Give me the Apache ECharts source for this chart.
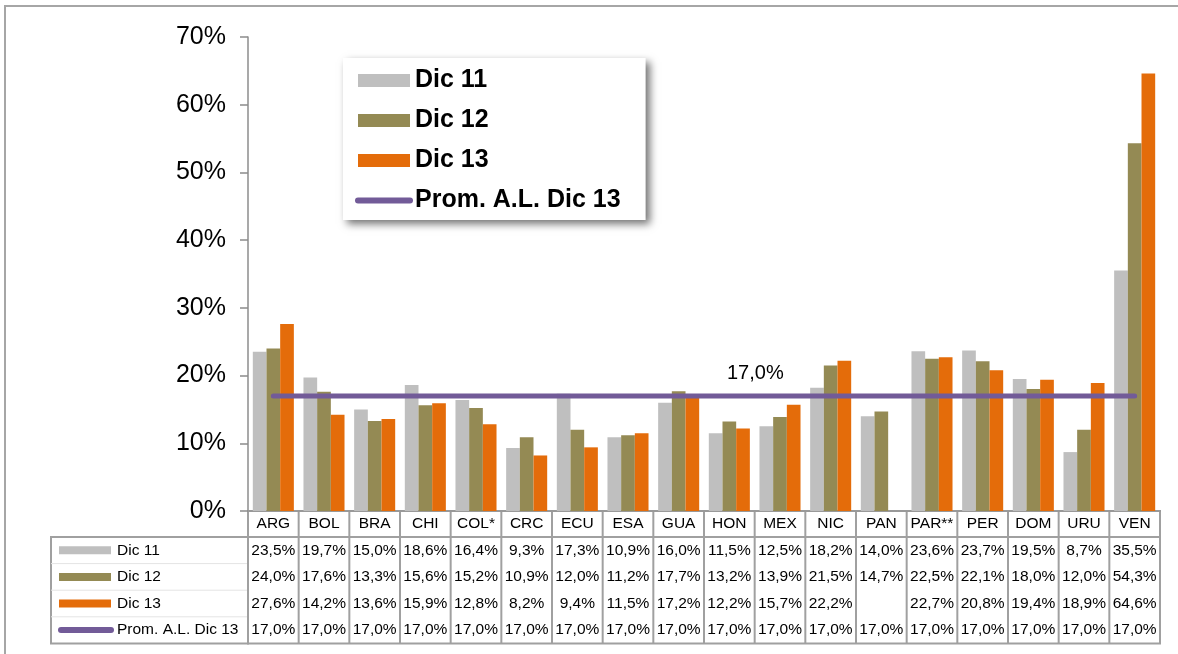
<!DOCTYPE html>
<html>
<head>
<meta charset="utf-8">
<script src="https://cdn.jsdelivr.net/npm/echarts@6/dist/echarts.min.js"></script>
<style>
  html, body { margin: 0; padding: 0; background: #fff; }
  #chart { width: 1178px; height: 654px; }
</style>
</head>
<body>
<div id="chart"></div>
<script>
// datos por país (% )
const countries = ['ARG', 'BOL', 'BRA', 'CHI', 'COL*', 'CRC', 'ECU', 'ESA', 'GUA', 'HON', 'MEX', 'NIC', 'PAN', 'PAR**', 'PER', 'DOM', 'URU', 'VEN'];
const dic11 = [23.5, 19.7, 15.0, 18.6, 16.4, 9.3, 17.3, 10.9, 16.0, 11.5, 12.5, 18.2, 14.0, 23.6, 23.7, 19.5, 8.7, 35.5];
const dic12 = [24.0, 17.6, 13.3, 15.6, 15.2, 10.9, 12.0, 11.2, 17.7, 13.2, 13.9, 21.5, 14.7, 22.5, 22.1, 18.0, 12.0, 54.3];
const dic13 = [27.6, 14.2, 13.6, 15.9, 12.8, 8.2, 9.4, 11.5, 17.2, 12.2, 15.7, 22.2, null, 22.7, 20.8, 19.4, 18.9, 64.6];
const promAL = [17.0, 17.0, 17.0, 17.0, 17.0, 17.0, 17.0, 17.0, 17.0, 17.0, 17.0, 17.0, 17.0, 17.0, 17.0, 17.0, 17.0, 17.0];
const seriesNames = ['Dic 11', 'Dic 12', 'Dic 13', 'Prom. A.L. Dic 13'];
const colors = ['#BFBFBF', '#948A54', '#E46C0A', '#725B98'];
const promLabelIndex = 9; // etiqueta "17,0%"

const FONT = 'Arial, "Liberation Sans", sans-serif';
const fmt = v => (v === null || v === undefined) ? '' : v.toFixed(1).replace('.', ',') + '%';

const chart = echarts.init(document.getElementById('chart'));

const option = {
  animation: false,
  color: colors,
  textStyle: { fontFamily: FONT },
  grid: { left: 248, right: 18, top: 37, bottom: 143 },
  legend: {
    orient: 'vertical',
    left: 343,
    top: 58,
    padding: [10, 25, 7, 12],
    itemGap: 15,
    itemWidth: 52,
    itemHeight: 13,
    backgroundColor: '#fff',
    shadowBlur: 8,
    shadowColor: 'rgba(0,0,0,0.55)',
    shadowOffsetX: 4,
    shadowOffsetY: 4,
    textStyle: { fontSize: 25, fontWeight: 'bold', color: '#000', fontFamily: FONT },
    data: [
      { name: seriesNames[0], icon: 'rect' },
      { name: seriesNames[1], icon: 'rect' },
      { name: seriesNames[2], icon: 'rect' },
      {
        name: seriesNames[3],
        itemStyle: { opacity: 0 },
        lineStyle: { width: 6, cap: 'round', color: colors[3] }
      }
    ]
  },
  xAxis: {
    type: 'category',
    data: countries,
    axisLine: { lineStyle: { color: '#999', width: 2 } },
    axisTick: { show: false },
    axisLabel: { show: false }
  },
  yAxis: {
    type: 'value',
    min: 0,
    max: 70,
    interval: 10,
    axisLine: { show: true, lineStyle: { color: '#8c8c8c', width: 1.5 } },
    axisTick: { show: true, length: 8, lineStyle: { color: '#8c8c8c', width: 1.5 } },
    splitLine: { show: false },
    axisLabel: { formatter: '{value}%', fontSize: 25, color: '#000', margin: 22, fontFamily: FONT }
  },
  series: [
    { name: seriesNames[0], type: 'bar', data: dic11, barGap: '0%', barCategoryGap: '19%' },
    { name: seriesNames[1], type: 'bar', data: dic12, barGap: '0%', barCategoryGap: '19%' },
    { name: seriesNames[2], type: 'bar', data: dic13, barGap: '0%', barCategoryGap: '19%' },
    {
      name: seriesNames[3],
      type: 'line',
      symbol: 'circle',
      symbolSize: 1,
      lineStyle: { width: 5, color: colors[3], cap: 'round' },
      itemStyle: { color: colors[3] },
      data: promAL.map((v, i) => i === promLabelIndex ? {
        value: v,
        label: {
          show: true, position: 'top', distance: 12, offset: [26, 0],
          formatter: p => fmt(p.value), fontSize: 20, color: '#000', fontFamily: FONT
        }
      } : v)
    }
  ]
};

chart.setOption(option);

// tabla de datos bajo el gráfico
function buildTable() {
  const els = [];
  const cx = countries.map(c => chart.convertToPixel({ xAxisIndex: 0 }, c));
  const half = (cx[1] - cx[0]) / 2;
  const x0 = cx[0] - half;
  const x1 = cx[cx.length - 1] + half;
  const yTop = chart.convertToPixel({ yAxisIndex: 0 }, 0);
  const headH = 26;
  const rowH = 26.6;
  const yBody = yTop + headH;
  const yBot = yBody + rowH * 4;
  const rows = [dic11, dic12, dic13, promAL];
  const lineStyle = { stroke: '#a0a0a0', lineWidth: 2 };
  const txt = (text, x, y, align) => ({
    type: 'text', silent: true,
    style: {
      text: text, x: x, y: y, fill: '#000', font: '15.5px ' + FONT,
      align: align || 'center', textAlign: align || 'center',
      verticalAlign: 'middle', textVerticalAlign: 'middle'
    }
  });

  // marco exterior
  els.push({ type: 'rect', silent: true, shape: { x: 5, y: 6, width: 1300, height: 800 },
    style: { fill: 'none', stroke: '#a6a6a6', lineWidth: 2 } });

  // columna de leyenda
  const lx = 51;
  els.push({ type: 'rect', silent: true, shape: { x: lx, y: yBody, width: x0 - lx, height: yBot - yBody },
    style: { fill: 'none', stroke: '#a0a0a0', lineWidth: 2 } });
  for (let r = 1; r < 4; r++) {
    els.push({ type: 'line', silent: true,
      shape: { x1: lx, y1: yBody + rowH * r, x2: x0, y2: yBody + rowH * r },
      style: { stroke: '#e4e4e4', lineWidth: 1 } });
  }
  for (let r = 0; r < 4; r++) {
    const cy = yBody + rowH * (r + 0.5);
    if (r < 3) {
      els.push({ type: 'rect', silent: true, shape: { x: 59, y: cy - 4, width: 52, height: 8 },
        style: { fill: colors[r] } });
    } else {
      els.push({ type: 'line', silent: true, shape: { x1: 61, y1: cy, x2: 111, y2: cy },
        style: { stroke: colors[3], lineWidth: 6, lineCap: 'round' } });
    }
    els.push(txt(seriesNames[r], 117, cy, 'left'));
  }

  // rejilla de valores
  els.push({ type: 'rect', silent: true, shape: { x: x0, y: yTop, width: x1 - x0, height: yBot - yTop },
    style: { fill: 'none', stroke: '#a0a0a0', lineWidth: 2 } });
  els.push({ type: 'line', silent: true, shape: { x1: x0, y1: yBody, x2: x1, y2: yBody }, style: lineStyle });
  for (let i = 1; i < countries.length; i++) {
    const x = cx[i] - half;
    els.push({ type: 'line', silent: true, shape: { x1: x, y1: yTop, x2: x, y2: yBot }, style: lineStyle });
  }
  countries.forEach((c, i) => {
    els.push(txt(c, cx[i], yTop + headH / 2));
    rows.forEach((arr, r) => {
      els.push(txt(fmt(arr[i]), cx[i], yBody + rowH * (r + 0.5)));
    });
  });
  return els;
}

chart.setOption({ graphic: buildTable() });
</script>
</body>
</html>
